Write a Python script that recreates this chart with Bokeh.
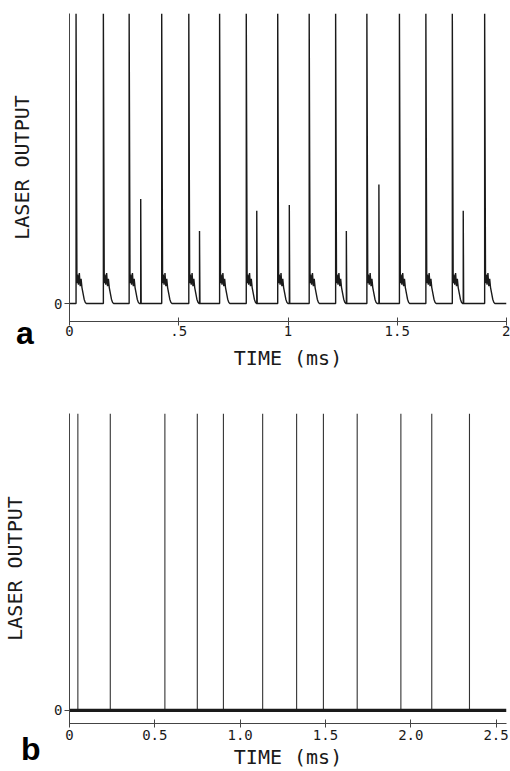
from bokeh.plotting import figure
from bokeh.models import Range1d, FixedTicker, Div
from bokeh.layouts import column
from bokeh.embed import file_html
from bokeh.resources import INLINE

# ---------------- data: panel a ----------------
big_spike_times_a = [0.030, 0.155, 0.273, 0.422, 0.546, 0.687, 0.809, 0.953,
                     1.097, 1.218, 1.361, 1.510, 1.631, 1.752, 1.900]
big_spike_height_a = 1.0  # saturated at top of trace
small_spike_times_a = [0.326, 0.595, 0.857, 1.006, 1.267, 1.416, 1.802]
small_spike_heights_a = [0.36, 0.25, 0.32, 0.34, 0.25, 0.41, 0.32]
# ringing after each big spike (offset in ms, level)
ring_dt = [0.004, 0.007, 0.011, 0.015, 0.019, 0.023, 0.027, 0.032, 0.037, 0.042, 0.047]
ring_y = [0.070, 0.100, 0.065, 0.105, 0.060, 0.085, 0.055, 0.035, 0.015, 0.004, 0.000]
x_ticks_a = [0, 0.5, 1, 1.5, 2]
x_tick_labels_a = ["0", ".5", "1", "1.5", "2"]

# ---------------- data: panel b ----------------
spike_times_b = [0.049, 0.239, 0.559, 0.749, 0.902, 1.132, 1.331, 1.488,
                 1.686, 1.942, 2.123, 2.344]
spike_height_b = 1.0
x_ticks_b = [0, 0.5, 1.0, 1.5, 2.0, 2.5]
x_tick_labels_b = ["0", "0.5", "1.0", "1.5", "2.0", "2.5"]

panel_letters = ["a", "b"]

FONT = "DejaVu Sans Mono"
INK = "#1a1a1a"

X_END_A = 2.0
X_END_B = 2.561

# build trace a
events = [(t, "big", big_spike_height_a) for t in big_spike_times_a] + \
         [(t, "small", h) for t, h in zip(small_spike_times_a, small_spike_heights_a)]
events.sort()
xa, ya = [0.0], [0.0]
for t, kind, h in events:
    xa += [t, t]
    ya += [0.0, h]
    if kind == "big":
        for dt, r in zip(ring_dt, ring_y):
            xa.append(t + dt)
            ya.append(r)
    else:
        xa.append(t + 0.002)
        ya.append(0.0)
xa.append(X_END_A)
ya.append(0.0)


def style(p, ticks, labels, ylabel_standoff, xlabel_standoff, xtick_standoff):
    p.outline_line_color = None
    p.grid.visible = False
    p.background_fill_color = "white"
    p.border_fill_color = "white"
    xa_ = p.xaxis[0]
    xa_.ticker = FixedTicker(ticks=ticks, minor_ticks=[])
    xa_.major_label_overrides = {k: v for k, v in zip(ticks, labels)}
    xa_.axis_label = "TIME (ms)"
    xa_.major_tick_in = 4
    xa_.major_tick_out = 4
    xa_.minor_tick_line_color = None
    xa_.major_label_standoff = xtick_standoff
    xa_.axis_label_standoff = xlabel_standoff
    ya_ = p.yaxis[0]
    ya_.ticker = FixedTicker(ticks=[0], minor_ticks=[])
    ya_.major_label_overrides = {0: "0"}
    ya_.axis_label = "LASER OUTPUT"
    ya_.major_tick_in = 0
    ya_.major_tick_out = 5
    ya_.minor_tick_line_color = None
    ya_.major_label_standoff = 2
    ya_.axis_label_standoff = ylabel_standoff
    for ax in (xa_, ya_):
        ax.axis_line_color = "#444444"
        ax.major_tick_line_color = "#444444"
        ax.major_label_text_font = FONT
        ax.major_label_text_font_size = "14px"
        ax.major_label_text_color = INK
        ax.axis_label_text_font = FONT
        ax.axis_label_text_font_size = "20px"
        ax.axis_label_text_font_style = "normal"
        ax.axis_label_text_color = INK


p1 = figure(width=510, height=380, x_range=Range1d(0, X_END_A), y_range=Range1d(-0.062, 1.0),
            output_backend="svg", toolbar_location=None,
            min_border_left=68, min_border_right=4, min_border_top=13, min_border_bottom=59)
style(p1, x_ticks_a, x_tick_labels_a, 17, 7, 0)
p1.line(xa, ya, line_color=INK, line_width=1.4)

p2 = figure(width=510, height=391, x_range=Range1d(0, X_END_B), y_range=Range1d(-0.044, 1.0),
            output_backend="svg", toolbar_location=None,
            min_border_left=68, min_border_right=2, min_border_top=33, min_border_bottom=48)
style(p2, x_ticks_b, x_tick_labels_b, 24, 2, 2)
p2.segment(x0=spike_times_b, y0=[0] * len(spike_times_b), x1=spike_times_b,
           y1=[spike_height_b] * len(spike_times_b), line_color="#333333", line_width=1.1)
p2.line([0, X_END_B], [0, 0], line_color=INK, line_width=3.2)

letter_style = {"font-family": "'Liberation Sans', Arial, sans-serif", "font-weight": "bold",
                "font-size": "32px", "line-height": "32px", "color": "black"}
div_a = Div(text=panel_letters[0], width=30, height=32, margin=(-63, 0, 31, 16),
            styles=letter_style)
div_b = Div(text=panel_letters[1], width=30, height=32, margin=(-38, 0, 6, 21),
            styles=letter_style)

layout = column(p1, div_a, p2, div_b, spacing=0)
open("out.html", "w").write(file_html(layout, INLINE))
